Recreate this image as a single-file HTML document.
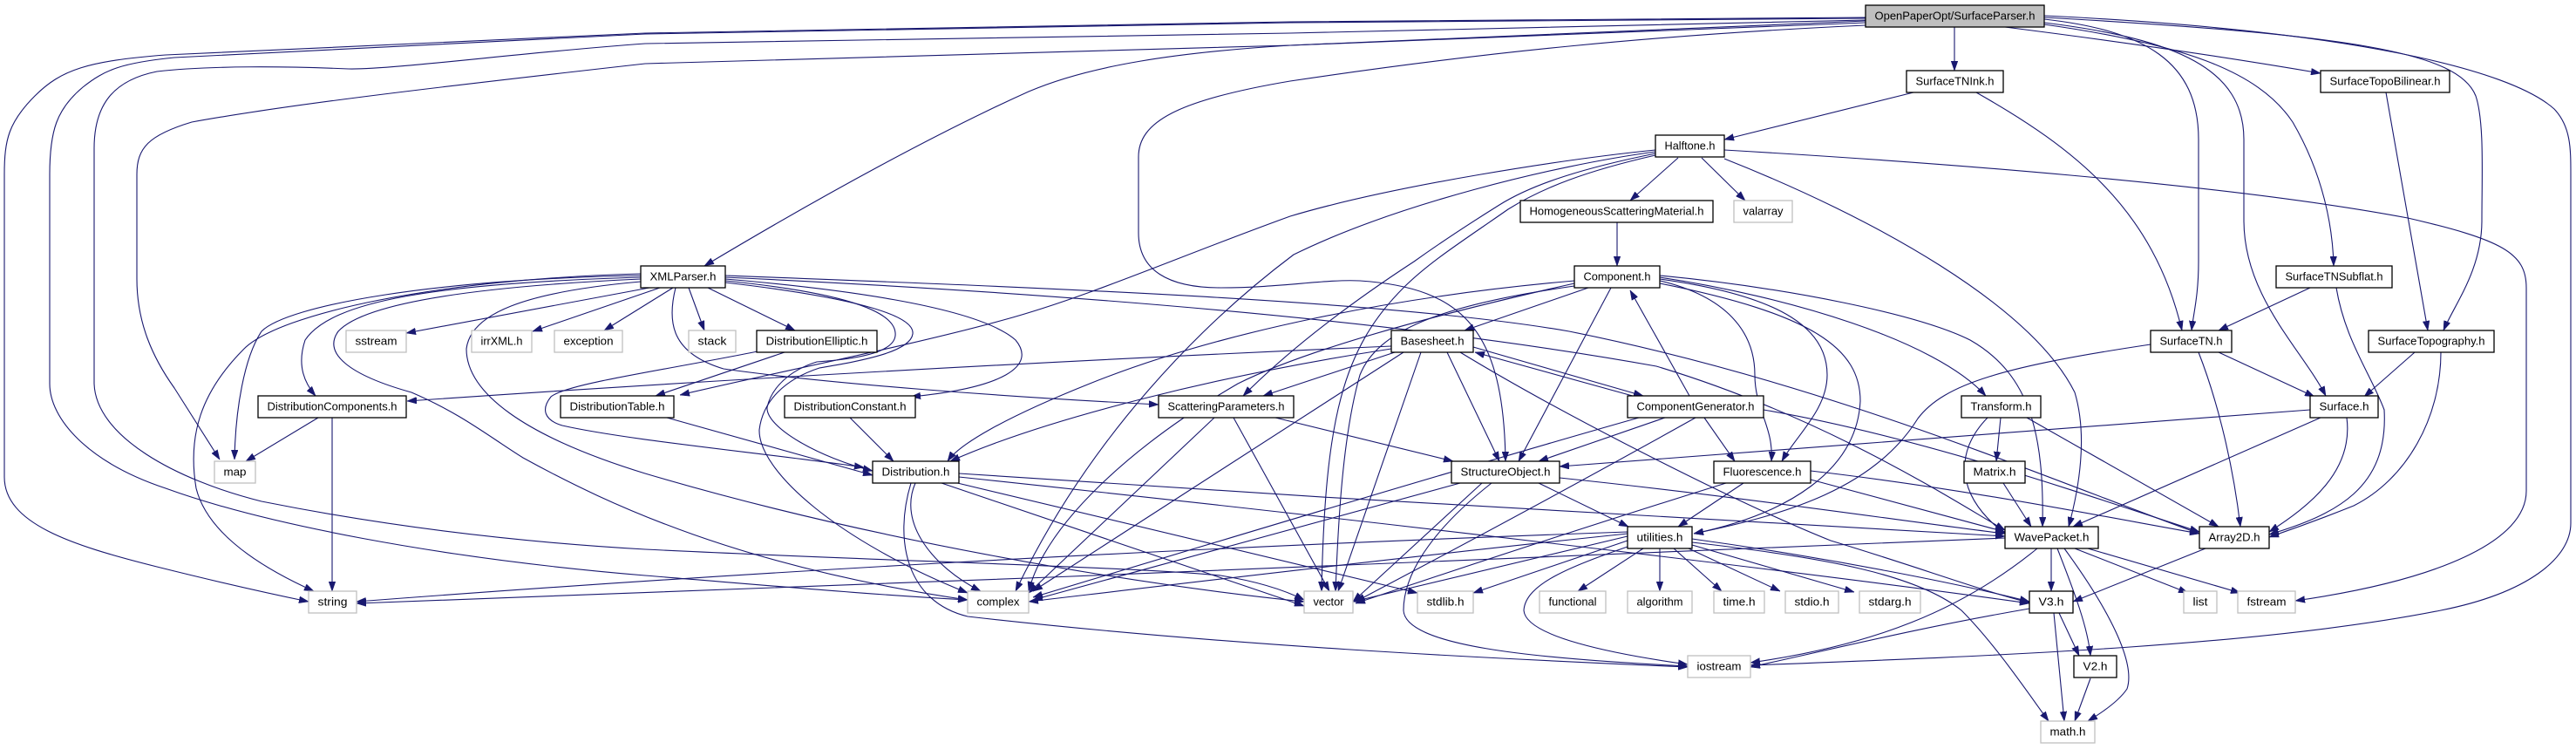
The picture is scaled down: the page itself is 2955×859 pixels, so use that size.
<!DOCTYPE html>
<html><head><meta charset="utf-8"><style>
html,body{margin:0;padding:0;background:#fff;}
svg{display:block;}
.e path{fill:none;stroke:#191970;stroke-width:1.1;marker-end:url(#ah);}
.n rect{fill:#fff;stroke:#000;stroke-width:1.3;}
.n rect.s{stroke:#bfbfbf;}
.n rect.t{fill:#bfbfbf;}
.n text{font-family:"Liberation Sans",sans-serif;font-size:13px;fill:#000;text-anchor:middle;}
</style></head><body>
<svg width="2955" height="859" viewBox="0 0 2955 859" xmlns="http://www.w3.org/2000/svg">
<defs><marker id="ah" markerUnits="userSpaceOnUse" markerWidth="11" markerHeight="8" viewBox="0 0 10 7" refX="10" refY="3.5" orient="auto"><path d="M0,0 L10,3.5 L0,7 z" fill="#191970" stroke="#191970" stroke-width="0.5"/></marker></defs>
<g class="e">
<path d="M2242,31 L2242,81"/>
<path d="M2300,31 C2450,50 2580,70 2662,84"/>
<path d="M2345,28 C2500,50 2590,80 2630,140 C2665,200 2676,260 2677,305"/>
<path d="M2345,22 C2460,35 2522,70 2522,160 L2522,300 C2522,340 2516,360 2514,379"/>
<path d="M2345,26 C2500,45 2574,80 2574,160 L2574,253 C2574,340 2640,400 2668,454"/>
<path d="M2345,20 C2700,40 2820,60 2840,110 C2850,140 2847,200 2847,253 C2847,310 2815,350 2803,379"/>
<path d="M2345,18 C2700,35 2880,80 2930,125 C2949,145 2949,170 2949,200 L2949,600 C2949,640 2900,680 2800,700 C2600,740 2300,752 2008,763"/>
<path d="M2140,26 L1480,52 C1350,60 1250,75 1180,105 C1080,150 950,220 808,305"/>
<path d="M2140,29 C1900,40 1700,60 1480,93 C1350,115 1306,140 1306,180 L1306,267 C1306,310 1340,330 1400,330 C1470,330 1520,320 1560,322 C1680,330 1725,380 1727,529"/>
<path d="M2140,20 L1480,25 L740,38 C500,48 300,58 190,63 C100,70 70,80 40,110 C10,140 5,160 5,200 L5,547 C5,600 80,625 180,650 C260,670 320,683 354,690"/>
<path d="M2140,21 L1480,26 L740,39 C500,50 300,60 200,66 C140,72 120,80 95,100 C65,125 57,150 57,200 L57,440 C57,480 100,530 190,560 C300,600 500,640 740,660 C900,673 1000,682 1110,688"/>
<path d="M2140,23 L1480,38 L740,50 C600,60 450,80 400,79 C330,76 240,75 180,82 C130,92 108,120 108,170 L108,440 C110,500 200,550 300,575 C450,605 600,622 740,630 C1000,643 1300,650 1400,660 C1450,668 1480,680 1496,688"/>
<path d="M2140,24 L1480,52 L740,73 C500,100 330,120 220,140 C170,155 157,170 157,200 L157,320 C157,370 175,410 200,445 L252,527"/>
<path d="M2195,106 L1978,160"/>
<path d="M2267,106 C2380,170 2470,240 2503,379"/>
<path d="M2737,106 L2785,379"/>
<path d="M1925,181 L1870,230"/>
<path d="M1952,181 L2002,230"/>
<path d="M1978,182 C2150,250 2330,350 2380,450 C2395,500 2385,560 2373,604"/>
<path d="M1978,172 C2200,185 2550,210 2762,250 C2870,275 2898,290 2898,330 L2898,563 C2898,620 2800,665 2633,689"/>
<path d="M1899,172 C1800,182 1600,212 1480,248 C1350,295 1250,340 1151,367 C1050,395 900,425 780,453"/>
<path d="M1899,174 C1780,190 1600,235 1484,292 C1380,370 1250,500 1165,678"/>
<path d="M1899,176 C1820,192 1760,210 1720,235 C1680,260 1650,280 1622,300 C1530,360 1470,410 1426,454"/>
<path d="M1899,178 C1820,196 1770,215 1730,240 C1680,275 1640,300 1610,330 C1540,400 1520,480 1516,678"/>
<path d="M1855,255 L1855,305"/>
<path d="M1822,330 L1680,379"/>
<path d="M1848,330 L1742,529"/>
<path d="M1904,318 C2050,340 2220,390 2278,454"/>
<path d="M1904,320 C2050,340 2096,380 2096,430 C2096,470 2060,500 2044,529"/>
<path d="M1904,322 C1980,340 2013,380 2013,430 C2013,470 2035,490 2032,529"/>
<path d="M1904,325 C2080,360 2134,400 2134,460 C2130,540 2050,590 1943,612"/>
<path d="M1904,316 C2050,330 2200,360 2260,390 C2330,430 2345,500 2343,604"/>
<path d="M1806,322 C1600,340 1400,380 1250,440 C1150,480 1100,510 1087,529"/>
<path d="M1806,325 C1650,360 1500,400 1420,440 C1300,510 1200,600 1180,678"/>
<path d="M1806,328 C1650,350 1580,380 1560,430 C1540,500 1535,600 1532,678"/>
<path d="M1596,397 C1300,410 900,430 467,460"/>
<path d="M1596,400 C1400,430 1200,480 1090,529"/>
<path d="M1600,404 L1449,454"/>
<path d="M1660,404 L1720,529"/>
<path d="M1690,398 L1885,454"/>
<path d="M1880,456 L1692,404"/>
<path d="M1610,404 L1185,678"/>
<path d="M1630,404 L1535,678"/>
<path d="M1675,404 C1800,480 2000,580 2100,620 C2200,650 2280,680 2328,691"/>
<path d="M1938,454 L1870,333"/>
<path d="M1910,479 L1765,529"/>
<path d="M1955,479 L1990,529"/>
<path d="M1880,479 C1700,530 1400,620 1185,685"/>
<path d="M1945,479 C1800,560 1650,640 1555,690"/>
<path d="M2023,470 C2200,500 2400,570 2523,610"/>
<path d="M1765,554 L1868,604"/>
<path d="M1675,554 L1185,688"/>
<path d="M1700,554 L1552,690"/>
<path d="M1711,554 C1640,610 1610,660 1610,700 C1612,740 1750,755 1936,764"/>
<path d="M1789,548 C2000,570 2200,600 2300,612"/>
<path d="M2000,554 L1925,604"/>
<path d="M1980,554 C1800,610 1650,660 1555,692"/>
<path d="M2077,550 L2300,610"/>
<path d="M2077,540 C2250,560 2400,590 2523,612"/>
<path d="M1050,554 C1030,600 1070,650 1125,678"/>
<path d="M1045,554 C1025,620 1040,690 1110,707 C1400,740 1700,755 1936,765"/>
<path d="M1080,554 L1496,695"/>
<path d="M1090,552 L1626,680"/>
<path d="M1100,543 C1500,570 2000,600 2300,615"/>
<path d="M1100,547 C1600,600 2100,660 2328,692"/>
<path d="M900,404 L752,454"/>
<path d="M869,403 C760,425 650,440 632,455 C620,470 625,482 645,488 C720,505 880,520 991,536"/>
<path d="M765,479 L1001,545"/>
<path d="M975,479 L1025,529"/>
<path d="M365,479 L282,529"/>
<path d="M381,479 L381,678"/>
<path d="M745,330 L466,382"/>
<path d="M757,330 L611,380"/>
<path d="M772,330 L693,379"/>
<path d="M790,330 L808,379"/>
<path d="M812,330 L912,379"/>
<path d="M735,318 C500,325 380,345 350,390 C340,420 350,440 362,454"/>
<path d="M735,316 C500,320 330,350 300,380 C280,410 270,470 269,527"/>
<path d="M735,314 C500,320 320,360 280,400 C230,450 215,500 225,560 C240,620 320,660 360,678"/>
<path d="M735,320 C560,328 420,345 388,380 C370,405 400,430 472,450 C530,475 560,500 600,525 C700,580 850,650 1110,688"/>
<path d="M735,323 C600,335 540,360 535,400 C535,450 600,500 740,543 C1000,620 1300,670 1496,690"/>
<path d="M775,330 C765,370 770,405 830,423 C950,440 1150,455 1329,464"/>
<path d="M832,320 C950,330 1120,350 1165,390 C1190,420 1150,445 1045,455"/>
<path d="M832,322 C960,335 1030,355 1027,385 C1025,405 980,412 937,415 C905,425 885,445 880,467 C878,490 940,525 1001,540"/>
<path d="M832,324 C970,340 1050,360 1047,383 C1044,405 980,415 940,422 C900,435 875,460 871,493 C870,540 960,620 1110,680"/>
<path d="M832,316 C1200,330 1600,345 1800,380 C2100,440 2350,550 2523,612"/>
<path d="M832,318 C1300,340 1650,375 1900,420 C2100,480 2250,580 2300,608"/>
<path d="M1885,629 L1810,678"/>
<path d="M1904,629 L1904,678"/>
<path d="M1920,629 L1975,678"/>
<path d="M1937,629 L2042,678"/>
<path d="M1941,625 L2127,679"/>
<path d="M1867,620 L1690,680"/>
<path d="M1867,615 L1552,690"/>
<path d="M1867,612 C1600,640 1350,670 1180,690"/>
<path d="M1867,610 C1300,630 800,660 409,690"/>
<path d="M1870,626 C1800,650 1750,670 1748,700 C1750,730 1850,750 1936,762"/>
<path d="M1941,622 C2100,640 2200,660 2250,700 C2290,740 2330,800 2350,827"/>
<path d="M1941,618 C2100,640 2250,670 2328,690"/>
<path d="M2353,629 L2353,678"/>
<path d="M2360,629 C2380,680 2395,720 2398,752"/>
<path d="M2368,629 C2420,700 2450,760 2440,790 C2430,805 2410,818 2395,827"/>
<path d="M2380,629 L2510,680"/>
<path d="M2395,629 L2570,680"/>
<path d="M2337,629 C2250,700 2150,740 2008,760"/>
<path d="M2300,617 C1800,640 1000,670 409,692"/>
<path d="M2362,703 L2385,752"/>
<path d="M2356,703 L2368,827"/>
<path d="M2328,698 C2200,720 2100,745 2008,765"/>
<path d="M2398,778 L2380,827"/>
<path d="M2530,629 L2378,690"/>
<path d="M2295,479 L2290,529"/>
<path d="M2280,479 C2240,520 2245,570 2300,612"/>
<path d="M2325,479 L2545,604"/>
<path d="M2298,554 L2330,604"/>
<path d="M2650,470 L1789,535"/>
<path d="M2662,479 L2378,604"/>
<path d="M2692,479 C2700,540 2650,580 2603,610"/>
<path d="M2545,404 L2655,455"/>
<path d="M2522,404 C2540,450 2560,520 2570,604"/>
<path d="M2467,395 C2300,420 2230,440 2200,480 C2150,560 2050,590 1943,612"/>
<path d="M2770,404 L2712,455"/>
<path d="M2800,404 C2800,480 2760,550 2700,580 C2650,600 2620,610 2603,616"/>
<path d="M2650,330 L2545,379"/>
<path d="M2680,330 C2690,390 2720,430 2735,470 C2740,560 2680,590 2603,613"/>
<path d="M1463,479 L1667,529"/>
<path d="M1393,479 L1180,680"/>
<path d="M1415,479 L1525,678"/>
</g>
<g class="n">
<rect class="t" x="2140" y="6" width="205" height="25"/><text x="2242.5" y="22.5" textLength="184" lengthAdjust="spacingAndGlyphs">OpenPaperOpt/SurfaceParser.h</text>
<rect x="2187" y="81" width="111" height="25"/><text x="2242.5" y="97.5" textLength="90" lengthAdjust="spacingAndGlyphs">SurfaceTNInk.h</text>
<rect x="2662" y="81" width="148" height="25"/><text x="2736" y="97.5" textLength="127" lengthAdjust="spacingAndGlyphs">SurfaceTopoBilinear.h</text>
<rect x="1899" y="155" width="79" height="25"/><text x="1938.5" y="171.5" textLength="58" lengthAdjust="spacingAndGlyphs">Halftone.h</text>
<rect x="1744" y="230" width="221" height="25"/><text x="1854.5" y="246.5" textLength="200" lengthAdjust="spacingAndGlyphs">HomogeneousScatteringMaterial.h</text>
<rect class="s" x="1989" y="230" width="67" height="25"/><text x="2022.5" y="246.5" textLength="46" lengthAdjust="spacingAndGlyphs">valarray</text>
<rect x="735" y="305" width="97" height="25"/><text x="783.5" y="321.5" textLength="76" lengthAdjust="spacingAndGlyphs">XMLParser.h</text>
<rect x="1806" y="305" width="98" height="25"/><text x="1855" y="321.5" textLength="77" lengthAdjust="spacingAndGlyphs">Component.h</text>
<rect x="2611" y="305" width="133" height="25"/><text x="2677.5" y="321.5" textLength="112" lengthAdjust="spacingAndGlyphs">SurfaceTNSubflat.h</text>
<rect class="s" x="397" y="379" width="69" height="25"/><text x="431.5" y="395.5" textLength="48" lengthAdjust="spacingAndGlyphs">sstream</text>
<rect class="s" x="541" y="379" width="69" height="25"/><text x="575.5" y="395.5" textLength="48" lengthAdjust="spacingAndGlyphs">irrXML.h</text>
<rect class="s" x="636" y="379" width="78" height="25"/><text x="675" y="395.5" textLength="57" lengthAdjust="spacingAndGlyphs">exception</text>
<rect class="s" x="790" y="379" width="54" height="25"/><text x="817" y="395.5" textLength="33" lengthAdjust="spacingAndGlyphs">stack</text>
<rect x="868" y="379" width="138" height="25"/><text x="937" y="395.5" textLength="117" lengthAdjust="spacingAndGlyphs">DistributionElliptic.h</text>
<rect x="1596" y="379" width="94" height="25"/><text x="1643" y="395.5" textLength="73" lengthAdjust="spacingAndGlyphs">Basesheet.h</text>
<rect x="2467" y="379" width="93" height="25"/><text x="2513.5" y="395.5" textLength="72" lengthAdjust="spacingAndGlyphs">SurfaceTN.h</text>
<rect x="2717" y="379" width="144" height="25"/><text x="2789" y="395.5" textLength="123" lengthAdjust="spacingAndGlyphs">SurfaceTopography.h</text>
<rect x="296" y="454" width="170" height="25"/><text x="381" y="470.5" textLength="149" lengthAdjust="spacingAndGlyphs">DistributionComponents.h</text>
<rect x="643" y="454" width="130" height="25"/><text x="708" y="470.5" textLength="109" lengthAdjust="spacingAndGlyphs">DistributionTable.h</text>
<rect x="900" y="454" width="150" height="25"/><text x="975" y="470.5" textLength="129" lengthAdjust="spacingAndGlyphs">DistributionConstant.h</text>
<rect x="1329" y="454" width="155" height="25"/><text x="1406.5" y="470.5" textLength="134" lengthAdjust="spacingAndGlyphs">ScatteringParameters.h</text>
<rect x="1867" y="454" width="156" height="25"/><text x="1945" y="470.5" textLength="135" lengthAdjust="spacingAndGlyphs">ComponentGenerator.h</text>
<rect x="2250" y="454" width="91" height="25"/><text x="2295.5" y="470.5" textLength="70" lengthAdjust="spacingAndGlyphs">Transform.h</text>
<rect x="2650" y="454" width="78" height="25"/><text x="2689" y="470.5" textLength="57" lengthAdjust="spacingAndGlyphs">Surface.h</text>
<rect class="s" x="246" y="529" width="47" height="25"/><text x="269.5" y="545.5" textLength="26" lengthAdjust="spacingAndGlyphs">map</text>
<rect x="1001" y="529" width="99" height="25"/><text x="1050.5" y="545.5" textLength="78" lengthAdjust="spacingAndGlyphs">Distribution.h</text>
<rect x="1665" y="529" width="124" height="25"/><text x="1727" y="545.5" textLength="103" lengthAdjust="spacingAndGlyphs">StructureObject.h</text>
<rect x="1966" y="529" width="111" height="25"/><text x="2021.5" y="545.5" textLength="90" lengthAdjust="spacingAndGlyphs">Fluorescence.h</text>
<rect x="2253" y="529" width="70" height="25"/><text x="2288" y="545.5" textLength="49" lengthAdjust="spacingAndGlyphs">Matrix.h</text>
<rect x="1867" y="604" width="74" height="25"/><text x="1904" y="620.5" textLength="53" lengthAdjust="spacingAndGlyphs">utilities.h</text>
<rect x="2300" y="604" width="107" height="25"/><text x="2353.5" y="620.5" textLength="86" lengthAdjust="spacingAndGlyphs">WavePacket.h</text>
<rect x="2523" y="604" width="80" height="25"/><text x="2563" y="620.5" textLength="59" lengthAdjust="spacingAndGlyphs">Array2D.h</text>
<rect class="s" x="354" y="678" width="55" height="25"/><text x="381.5" y="694.5" textLength="34" lengthAdjust="spacingAndGlyphs">string</text>
<rect class="s" x="1110" y="678" width="70" height="25"/><text x="1145" y="694.5" textLength="49" lengthAdjust="spacingAndGlyphs">complex</text>
<rect class="s" x="1496" y="678" width="56" height="25"/><text x="1524" y="694.5" textLength="35" lengthAdjust="spacingAndGlyphs">vector</text>
<rect class="s" x="1626" y="678" width="64" height="25"/><text x="1658" y="694.5" textLength="43" lengthAdjust="spacingAndGlyphs">stdlib.h</text>
<rect class="s" x="1766" y="678" width="76" height="25"/><text x="1804" y="694.5" textLength="55" lengthAdjust="spacingAndGlyphs">functional</text>
<rect class="s" x="1867" y="678" width="74" height="25"/><text x="1904" y="694.5" textLength="53" lengthAdjust="spacingAndGlyphs">algorithm</text>
<rect class="s" x="1966" y="678" width="58" height="25"/><text x="1995" y="694.5" textLength="37" lengthAdjust="spacingAndGlyphs">time.h</text>
<rect class="s" x="2048" y="678" width="61" height="25"/><text x="2078.5" y="694.5" textLength="40" lengthAdjust="spacingAndGlyphs">stdio.h</text>
<rect class="s" x="2133" y="678" width="70" height="25"/><text x="2168" y="694.5" textLength="49" lengthAdjust="spacingAndGlyphs">stdarg.h</text>
<rect x="2328" y="678" width="50" height="25"/><text x="2353" y="694.5" textLength="29" lengthAdjust="spacingAndGlyphs">V3.h</text>
<rect class="s" x="2505" y="678" width="38" height="25"/><text x="2524" y="694.5" textLength="17" lengthAdjust="spacingAndGlyphs">list</text>
<rect class="s" x="2567" y="678" width="66" height="25"/><text x="2600" y="694.5" textLength="45" lengthAdjust="spacingAndGlyphs">fstream</text>
<rect class="s" x="1936" y="752" width="72" height="25"/><text x="1972" y="768.5" textLength="51" lengthAdjust="spacingAndGlyphs">iostream</text>
<rect x="2379" y="752" width="49" height="25"/><text x="2403.5" y="768.5" textLength="28" lengthAdjust="spacingAndGlyphs">V2.h</text>
<rect class="s" x="2341" y="827" width="62" height="25"/><text x="2372" y="843.5" textLength="41" lengthAdjust="spacingAndGlyphs">math.h</text>
</g>
</svg>
</body></html>
